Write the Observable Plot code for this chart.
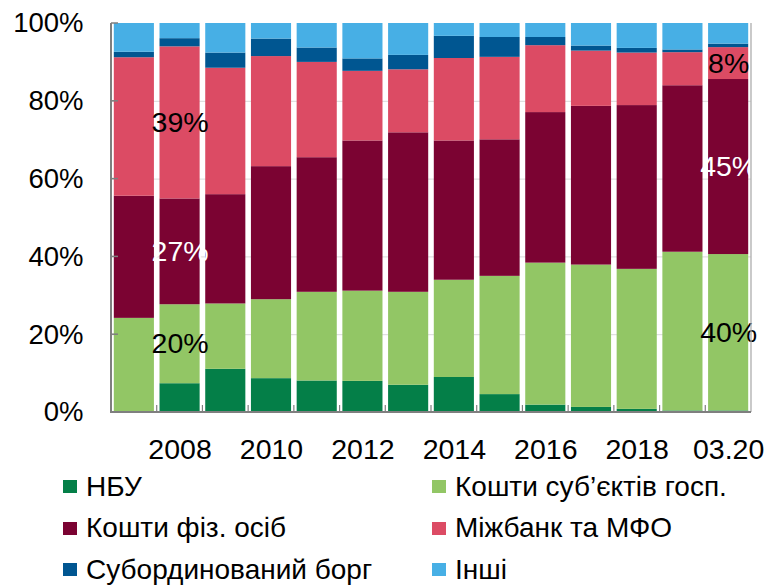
<!DOCTYPE html>
<html>
<head>
<meta charset="utf-8">
<script src="https://cdn.jsdelivr.net/npm/d3@7"></script>
<script src="https://cdn.jsdelivr.net/npm/@observablehq/plot@0.6"></script>
<style>
  body { margin: 0; background: #fff; font-family: "Liberation Sans", Arial, sans-serif; }
  #chart { width: 766px; }
  .legend { display: grid; grid-template-columns: 369px 340px; padding-left: 63px; }
  .item { display: flex; align-items: center; height: 41.5px; font-size: 28px; line-height: 1; color: #000; white-space: nowrap; }
  .sw { width: 14px; height: 13px; margin-right: 9px; flex: none; }
</style>
</head>
<body>
<div id="chart"></div>
<script>
const categories = ["2007","2008","2009","2010","2011","2012","2013","2014","2015","2016","2017","2018","2019","03.20"];
const tickLabels = ["2008","2010","2012","2014","2016","2018","03.20"];
const seriesNames = ["НБУ","Кошти суб’єктів госп.","Кошти фіз. осіб","Міжбанк та МФО","Субординований борг","Інші"];
const seriesColors = ["#047f48","#92c665","#7b0332","#dc4b64","#005691","#47afe5"];
const nbu       = [0, 7.4, 11.1, 8.7, 8.1, 8.0, 7.0, 9.0, 4.6, 1.9, 1.3, 0.8, 0.4, 0.4];
const corporate = [24.2, 20.3, 16.8, 20.3, 22.8, 23.2, 23.9, 25.0, 30.4, 36.5, 36.6, 36.0, 40.8, 40.2];
const household = [31.4, 27.2, 28.1, 34.2, 34.6, 38.6, 41.0, 35.8, 35.1, 38.7, 40.8, 42.1, 42.8, 45.0];
const interbank = [35.6, 39.1, 32.5, 28.3, 24.5, 17.9, 16.2, 21.2, 21.2, 17.2, 14.2, 13.5, 8.5, 8.2];
const subdebt   = [1.4, 2.1, 3.9, 4.5, 3.7, 3.2, 3.7, 5.7, 5.1, 2.1, 1.3, 1.2, 0.7, 0.9];
const others    = [7.4, 3.9, 7.6, 4.0, 6.3, 9.1, 8.2, 3.3, 3.6, 3.6, 5.8, 6.4, 6.8, 5.3];
const yTicks = [0, 20, 40, 60, 80, 100];
const labelCats   = ["2008","2008","2008","03.20","03.20","03.20"];
const labelSeries = ["Кошти суб’єктів госп.","Кошти фіз. осіб","Міжбанк та МФО","Кошти суб’єктів госп.","Кошти фіз. осіб","Міжбанк та МФО"];
const labelTexts  = ["20%","27%","39%","40%","45%","8%"];

const seriesValues = [nbu, corporate, household, interbank, subdebt, others];
const rows = [];
seriesNames.forEach((s, si) => categories.forEach((c, ci) => rows.push({cat: c, series: s, value: seriesValues[si][ci]})));
const labelMap = new Map(labelCats.map((c, i) => [c + "|" + labelSeries[i], labelTexts[i]]));
const labelRows = rows.map(d => ({...d, label: labelMap.get(d.cat + "|" + d.series) || ""}));

const plot = Plot.plot({
  width: 766,
  height: 466,
  marginLeft: 111,
  marginRight: 15,
  marginTop: 23,
  marginBottom: 54,
  style: {fontFamily: "'Liberation Sans', Arial, sans-serif", fontSize: "27px", color: "#000", background: "#fff"},
  x: {domain: categories, padding: 0, round: false, label: null},
  y: {domain: [0, 100], label: null},
  color: {domain: seriesNames, range: seriesColors},
  marks: [
    Plot.ruleY(yTicks.slice(1, -1), {stroke: "#d9d9d9", strokeWidth: 1}),
    Plot.barY(rows, {x: "cat", y: "value", fill: "series", order: seriesNames, insetLeft: 2.8, insetRight: 2.8}),
    Plot.text(labelRows, Plot.stackY({x: "cat", y: "value", z: "series", order: seriesNames, text: "label",
      fill: d => d.series === "Кошти фіз. осіб" ? "#fff" : "#000", fontSize: 28.5})),
    Plot.axisY({ticks: yTicks, tickFormat: d => d + "%", tickSize: 0, tickPadding: 28, fontSize: 27.5}),
    Plot.axisX({ticks: tickLabels, tickSize: 0, tickPadding: 26, fontSize: 28.5})
  ]
});

// axis lines and ticks derived from the plot's scales
const xs = plot.scale("x"), ys = plot.scale("y");
const svg = d3.select(plot);
const left = xs.range[0], right = xs.range[1];
const y0 = ys.apply(0), y100 = ys.apply(100);
const g = svg.append("g").attr("stroke", "#7f7f7f").attr("fill", "none");
g.append("line").attr("x1", right).attr("x2", right).attr("y1", y100).attr("y2", y0).attr("stroke", "#a6a6a6").attr("stroke-width", 1.2);
g.append("line").attr("x1", left).attr("x2", left).attr("y1", y100).attr("y2", y0 + 1).attr("stroke-width", 2);
g.append("line").attr("x1", left - 1).attr("x2", right).attr("y1", y0).attr("y2", y0).attr("stroke-width", 2);
yTicks.forEach(v => g.append("line").attr("x1", left).attr("x2", left + 7).attr("y1", ys.apply(v)).attr("y2", ys.apply(v)).attr("stroke-width", 1.5));
categories.slice(1).forEach(c => {
  const xb = xs.apply(c);
  g.append("line").attr("x1", xb).attr("x2", xb).attr("y1", y0).attr("y2", y0 - 7).attr("stroke-width", 1.2);
});

document.getElementById("chart").appendChild(plot);

const legend = document.createElement("div");
legend.className = "legend";
seriesNames.forEach((name, i) => {
  const it = document.createElement("div");
  it.className = "item";
  const sw = document.createElement("span");
  sw.className = "sw";
  sw.style.background = seriesColors[i];
  it.appendChild(sw);
  it.appendChild(document.createTextNode(name));
  legend.appendChild(it);
});
document.getElementById("chart").appendChild(legend);
</script>
</body>
</html>
